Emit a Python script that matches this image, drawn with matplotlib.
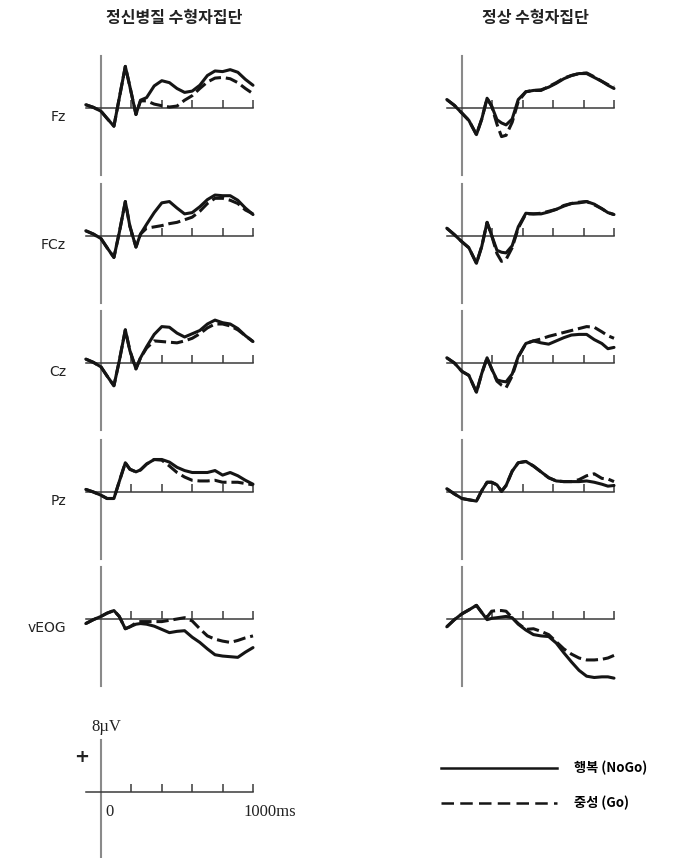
import numpy as np
import matplotlib.pyplot as plt
from matplotlib.lines import Line2D

# 시간축 (ms)
t_psy = [-100, -50, 0, 40, 85, 120, 160, 190, 230, 260, 300, 350, 400, 450,
         500, 550, 600, 650, 700, 750, 800, 850, 900, 950, 1000]
t_nor = [-100, -50, 0, 45, 95, 130, 165, 195, 230, 260, 290, 330, 370, 420,
         470, 520, 570, 620, 670, 720, 770, 820, 870, 920, 960, 1000]

channels = ["Fz", "FCz", "Cz", "Pz", "vEOG"]
group_titles = ["정신병질 수형자집단", "정상 수형자집단"]
legend_labels = ["행복 (NoGo)", "중성 (Go)"]

# 정신병질 집단 (µV)
psy_fz_nogo = [0.5, 0.1, -0.5, -1.6, -2.8, 1.5, 6.4, 3.3, -1.0, 1.2, 1.6, 3.4, 4.2, 3.9,
               3.0, 2.4, 2.6, 3.5, 5.0, 5.7, 5.6, 5.9, 5.5, 4.4, 3.5]
psy_fz_go = [0.5, 0.1, -0.5, -1.6, -2.8, 1.5, 6.4, 3.3, -1.0, 1.1, 1.1, 0.6, 0.35, 0.15,
             0.3, 1.2, 1.9, 3.0, 4.0, 4.6, 4.7, 4.5, 3.9, 3.0, 2.2]
psy_fcz_nogo = [0.8, 0.3, -0.4, -1.8, -3.3, 0.5, 5.3, 1.5, -1.7, 0.3, 1.8, 3.6, 5.1, 5.3,
                4.3, 3.4, 3.6, 4.5, 5.6, 6.3, 6.2, 6.2, 5.5, 4.3, 3.3]
psy_fcz_go = [0.8, 0.3, -0.4, -1.8, -3.3, 0.5, 5.3, 1.5, -1.7, 0.3, 1.2, 1.4, 1.6, 1.9,
              2.1, 2.5, 2.9, 3.8, 5.0, 5.8, 5.8, 5.5, 5.0, 4.0, 3.4]
psy_cz_nogo = [0.6, 0.1, -0.6, -2.0, -3.5, 0.3, 5.1, 1.9, -0.9, 0.8, 2.5, 4.4, 5.6, 5.5,
               4.6, 4.0, 4.5, 5.0, 6.0, 6.6, 6.2, 6.0, 5.3, 4.2, 3.3]
psy_cz_go = [0.6, 0.1, -0.6, -2.0, -3.5, 0.3, 5.1, 1.9, -0.9, 0.8, 2.3, 3.4, 3.3, 3.2,
             3.1, 3.4, 3.8, 4.5, 5.4, 6.0, 6.0, 5.7, 5.1, 4.2, 3.3]
psy_pz_nogo = [0.4, 0.0, -0.5, -1.0, -1.0, 1.6, 4.5, 3.5, 3.1, 3.4, 4.3, 5.0, 5.0, 4.6,
               3.8, 3.3, 3.0, 3.0, 3.0, 3.3, 2.6, 3.0, 2.5, 1.8, 1.2]
psy_pz_go = [0.4, 0.0, -0.5, -1.0, -1.0, 1.6, 4.5, 3.5, 3.1, 3.4, 4.3, 5.0, 4.9, 4.0,
             3.0, 2.3, 1.8, 1.7, 1.7, 1.8, 1.5, 1.5, 1.5, 1.3, 1.1]
psy_veog_nogo = [-0.7, -0.1, 0.4, 0.9, 1.3, 0.4, -1.5, -1.2, -0.8, -0.7, -0.8, -1.1, -1.6, -2.1,
                 -1.9, -1.8, -2.8, -3.6, -4.6, -5.5, -5.7, -5.8, -5.9, -5.1, -4.4]
psy_veog_go = [-0.7, -0.1, 0.4, 0.9, 1.3, 0.4, -1.5, -1.2, -0.6, -0.4, -0.4, -0.4, -0.4, -0.2,
               0.0, 0.2, -0.3, -1.5, -2.6, -3.1, -3.4, -3.6, -3.3, -2.9, -2.6]

# 정상 집단 (µV)
nor_fz_nogo = [1.3, 0.4, -0.8, -1.9, -4.1, -1.7, 1.5, 0.3, -1.8, -2.3, -2.6, -1.7, 1.3, 2.5,
               2.7, 2.8, 3.2, 3.8, 4.5, 5.0, 5.3, 5.3, 4.7, 4.1, 3.5, 3.0]
nor_fz_go = [1.3, 0.4, -0.8, -1.9, -4.1, -1.7, 1.5, 0.3, -2.5, -4.4, -4.2, -2.2, 1.0, 2.5,
             2.7, 2.7, 3.3, 3.9, 4.6, 5.0, 5.3, 5.4, 4.8, 4.1, 3.6, 3.2]
nor_fcz_nogo = [1.2, 0.2, -0.9, -1.8, -4.2, -1.6, 2.1, 0.1, -2.2, -2.5, -2.6, -1.5, 1.4, 3.5,
                3.4, 3.4, 3.7, 4.1, 4.6, 5.0, 5.1, 5.3, 4.9, 4.2, 3.6, 3.3]
nor_fcz_go = [1.2, 0.2, -0.9, -1.8, -4.2, -1.6, 2.1, 0.1, -2.7, -3.9, -3.6, -1.8, 1.2, 3.4,
              3.4, 3.5, 3.8, 4.1, 4.7, 5.0, 5.2, 5.3, 4.8, 4.2, 3.6, 3.3]
nor_cz_nogo = [0.8, 0.0, -1.3, -1.9, -4.5, -1.6, 0.8, -0.9, -2.6, -2.8, -2.9, -1.7, 1.0, 3.0,
               3.4, 3.1, 2.9, 3.4, 3.9, 4.3, 4.4, 4.4, 3.6, 3.0, 2.2, 2.4]
nor_cz_go = [0.8, 0.0, -1.3, -1.9, -4.5, -1.6, 0.8, -0.9, -2.8, -3.4, -3.8, -2.0, 0.9, 3.0,
             3.4, 3.7, 4.1, 4.4, 4.7, 5.0, 5.3, 5.6, 5.5, 4.8, 4.2, 3.8]
nor_pz_nogo = [0.5, -0.3, -1.0, -1.2, -1.4, 0.2, 1.5, 1.5, 1.1, 0.1, 1.0, 3.2, 4.5, 4.7,
               4.0, 3.1, 2.2, 1.7, 1.6, 1.6, 1.6, 1.7, 1.5, 1.2, 0.9, 1.0]
nor_pz_go = [0.5, -0.3, -1.0, -1.2, -1.4, 0.2, 1.5, 1.5, 1.1, 0.1, 1.0, 3.2, 4.5, 4.7,
             4.0, 3.1, 2.2, 1.7, 1.6, 1.6, 1.9, 2.5, 2.8, 2.1, 2.0, 1.6]
nor_veog_nogo = [-1.2, -0.1, 0.8, 1.4, 2.1, 1.0, -0.1, 0.1, 0.2, 0.3, 0.4, 0.2, -0.8, -1.7,
                 -2.4, -2.6, -2.7, -3.7, -5.2, -6.6, -7.9, -8.8, -9.0, -8.9, -8.9, -9.1]
nor_veog_go = [-1.2, -0.1, 0.8, 1.4, 2.1, 1.0, 0.3, 1.2, 1.3, 1.3, 1.2, 0.2, -0.7, -1.6,
               -1.5, -1.9, -2.4, -3.5, -4.6, -5.4, -6.0, -6.3, -6.3, -6.2, -6.0, -5.6]

psy_nogo = [psy_fz_nogo, psy_fcz_nogo, psy_cz_nogo, psy_pz_nogo, psy_veog_nogo]
psy_go = [psy_fz_go, psy_fcz_go, psy_cz_go, psy_pz_go, psy_veog_go]
nor_nogo = [nor_fz_nogo, nor_fcz_nogo, nor_cz_nogo, nor_pz_nogo, nor_veog_nogo]
nor_go = [nor_fz_go, nor_fcz_go, nor_cz_go, nor_pz_go, nor_veog_go]

tick_ms = [200, 400, 600, 800, 1000]

W, H = 673, 858
PX_MS = 0.152   # px per ms
PX_UV = 6.5     # px per µV (8µV = 52px)
fig = plt.figure(figsize=(W / 100, H / 100), dpi=100)

ink = "#151515"
grey = "#8a8a8a"


def panel(x0, y0):
    # x0, y0: 픽셀 위치 (0ms, 0µV)
    left = x0 - 150 * PX_MS
    bottom = y0 + 11 * PX_UV
    ax = fig.add_axes([left / W, 1 - bottom / H, 1200 * PX_MS / W, 20 * PX_UV / H])
    ax.set_xlim(-150, 1050)
    ax.set_ylim(-11, 9)
    ax.axis("off")
    ax.plot([0, 0], [-10.3, 8], color=grey, lw=1.5, zorder=1)
    ax.plot([-100, 1000], [0, 0], color="#3a3a3a", lw=1.1, zorder=1)
    ax.vlines(tick_ms, 0, 1.25, color="#3a3a3a", lw=1.1, zorder=1)
    return ax


col_x = [101, 462]
row_y = [108, 236, 363, 492, 619]
data_cols = [(t_psy, psy_nogo, psy_go), (t_nor, nor_nogo, nor_go)]

for c, (t, nogo, go) in enumerate(data_cols):
    for r, ch in enumerate(channels):
        ax = panel(col_x[c], row_y[r])
        ax.plot(t, nogo[r], color=ink, lw=2.2, solid_joinstyle="round",
                solid_capstyle="round", zorder=3)
        ax.plot(t, go[r], color=ink, lw=2.2, dashes=(4, 1.6), zorder=3)
        if c == 0:
            fig.text(66 / W, 1 - (row_y[r] + 9) / H, ch, ha="right", va="center",
                     fontsize=10, family="DejaVu Sans", color="#222")

fig.text(174 / W, 1 - 18 / H, group_titles[0], ha="center", va="center",
         fontsize=11.5, weight="bold", family="Noto Sans CJK KR", color="#222")
fig.text(535 / W, 1 - 18 / H, group_titles[1], ha="center", va="center",
         fontsize=11.5, weight="bold", family="Noto Sans CJK KR", color="#222")

# 척도 막대
sax = panel(101, 792)
fig.text(106 / W, 1 - 727 / H, "8µV", ha="center", va="center",
         fontsize=12, family="Liberation Serif", color="#222")
fig.text(82 / W, 1 - 757 / H, "+", ha="center", va="center",
         fontsize=13, weight="bold", family="DejaVu Sans", color="#222")
fig.text(110 / W, 1 - 812 / H, "0", ha="center", va="center",
         fontsize=12, family="Liberation Serif", color="#222")
fig.text(243 / W, 1 - 812 / H, "1000ms", ha="left", va="center",
         fontsize=12, family="Liberation Serif", color="#222")

# 범례
leg_lines = [Line2D([], [], color=ink, lw=1.8),
             Line2D([], [], color=ink, lw=1.8, dashes=(5, 2.5))]
fig.legend(leg_lines, legend_labels, loc="upper left",
           bbox_to_anchor=(441 / W, 1 - 761 / H), frameon=False,
           handlelength=8.8, handletextpad=1.3, labelspacing=1.55,
           borderpad=0, borderaxespad=0,
           prop={"family": "Noto Sans CJK KR", "weight": "bold", "size": 9.5})

fig.savefig("out.png", dpi=100)
